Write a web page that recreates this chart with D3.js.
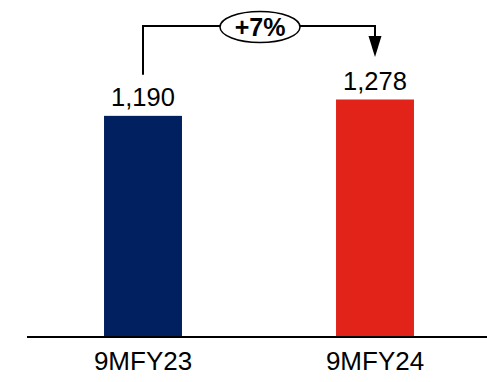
<!DOCTYPE html>
<html><head><meta charset="utf-8">
<script src="https://cdn.jsdelivr.net/npm/d3@7"></script>
<style>body{margin:0;background:#fff}svg{display:block}</style>
</head><body>
<svg id="c" width="487" height="382"></svg>
<script>
const categories = ["9MFY23", "9MFY24"];
const values = [1190, 1278];
const valueLabels = ["1,190", "1,278"];
const colors = ["#002060", "#E2231A"];
const growthLabel = "+7%";

const svg = d3.select("#c");
const font = "'Liberation Sans', Arial, sans-serif";
const baseY = 337;
const x = d3.scaleBand().domain(categories).range([27, 491]).paddingInner(0.664).paddingOuter(0.332);
const y = d3.scaleLinear().domain([0, 1278]).range([baseY, 99.5]);

svg.selectAll("rect.bar").data(values).enter().append("rect")
  .attr("x", (d, i) => x(categories[i]))
  .attr("y", d => y(d))
  .attr("width", x.bandwidth())
  .attr("height", d => baseY - y(d))
  .attr("fill", (d, i) => colors[i]);

// axis
const axis = d3.axisBottom(x).tickSize(0).tickPadding(10);
const g = svg.append("g").attr("transform", `translate(0,${baseY})`).call(axis);
g.select(".domain").remove();
g.selectAll("text").attr("font-family", font).attr("font-size", 26).attr("fill", "#000").attr("dy", "0.72em").attr("y", 14);
svg.append("line").attr("x1", 27).attr("x2", 487).attr("y1", baseY).attr("y2", baseY)
  .attr("stroke", "#000").attr("stroke-width", 2);

// value labels
svg.selectAll("text.val").data(values).enter().append("text")
  .attr("x", (d, i) => x(categories[i]) + x.bandwidth() / 2)
  .attr("y", d => y(d) - 10)
  .attr("text-anchor", "middle")
  .attr("font-family", font).attr("font-size", 25.5).attr("fill", "#000")
  .text((d, i) => valueLabels[i]);

// connector
const cx0 = x(categories[0]) + x.bandwidth() / 2;
const cx1 = x(categories[1]) + x.bandwidth() / 2;
const topY = 26;
svg.append("path")
  .attr("d", `M${cx0},${y(values[0]) - 41}V${topY}H${cx1}V37`)
  .attr("fill", "none").attr("stroke", "#000").attr("stroke-width", 2);
svg.append("path")
  .attr("d", `M${cx1 - 6.5},36L${cx1 + 6.5},36L${cx1},57Z`)
  .attr("fill", "#000");
const ex = (cx0 + cx1) / 2 + 1;
svg.append("ellipse").attr("cx", ex).attr("cy", 27).attr("rx", 40).attr("ry", 15.5)
  .attr("fill", "#fff").attr("stroke", "#000").attr("stroke-width", 1.5);
svg.append("text").attr("x", ex).attr("y", 36).attr("text-anchor", "middle")
  .attr("font-family", font).attr("font-size", 25).attr("font-weight", "bold")
  .text(growthLabel);
</script>
</body></html>
